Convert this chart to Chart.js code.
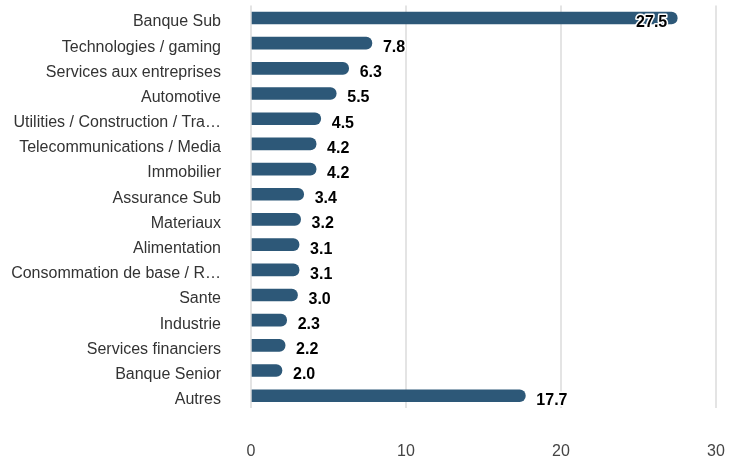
<!DOCTYPE html>
<html><head><meta charset="utf-8">
<script src="https://cdn.jsdelivr.net/npm/chart.js@4/dist/chart.umd.min.js"></script>
<style>html,body{margin:0;padding:0;background:#fff;overflow:hidden}canvas{display:block}</style>
</head><body><canvas id="c" width="729" height="459" style="width:729px;height:459px"></canvas>
<script>
const categories = ["Banque Sub","Technologies / gaming","Services aux entreprises","Automotive","Utilities / Construction / Tra\u2026","Telecommunications / Media","Immobilier","Assurance Sub","Materiaux","Alimentation","Consommation de base / R\u2026","Sante","Industrie","Services financiers","Banque Senior","Autres"];
const values = [27.5,7.8,6.3,5.5,4.5,4.2,4.2,3.4,3.2,3.1,3.1,3.0,2.3,2.2,2.0,17.7];
const xTicks = [0,10,20,30];

const valueLabels = {
  id:'valueLabels',
  afterDatasetsDraw(chart){
    const ctx = chart.ctx, area = chart.chartArea;
    const meta = chart.getDatasetMeta(0);
    ctx.save();
    ctx.font = 'bold 16px "Liberation Sans", Arial, sans-serif';
    ctx.textBaseline = 'middle';
    ctx.lineJoin = 'round';
    meta.data.forEach((bar,i)=>{
      const txt = values[i].toFixed(1);
      const w = ctx.measureText(txt).width;
      let x = bar.x + 11;
      if (x + w > area.right - 20) { x = bar.x - 10 - w; }
      const y = bar.y + 4.5;
      ctx.lineWidth = 3;
      ctx.strokeStyle = '#fff';
      ctx.strokeText(txt, x, y);
      ctx.fillStyle = '#000';
      ctx.fillText(txt, x, y);
    });
    ctx.restore();
  }
};

new Chart(document.getElementById('c'), {
  type:'bar',
  data:{labels:categories,datasets:[{data:values,backgroundColor:'#2d5878',borderRadius:{topRight:7,bottomRight:7,topLeft:0,bottomLeft:0},borderSkipped:false,barThickness:12}]},
  options:{
    indexAxis:'y',responsive:false,maintainAspectRatio:false,animation:false,devicePixelRatio:1,
    layout:{padding:{top:5.4,right:13,bottom:0,left:0}},
    plugins:{legend:{display:false},tooltip:{enabled:false}},
    scales:{
      x:{min:0,max:30,afterBuildTicks(s){s.ticks=xTicks.map(v=>({value:v}));},
        afterFit(s){s.height=50.7;s.paddingLeft=0;s.paddingRight=0;},
        border:{display:false},
        grid:{color:'#e4e4e4',lineWidth:2,drawTicks:false},
        ticks:{padding:34,color:'#444',font:{size:16,family:'"Liberation Sans", Arial, sans-serif'}}},
      y:{border:{display:false},grid:{display:false,drawTicks:false},
        afterFit(s){s.width=251;s.paddingTop=0;s.paddingBottom=0;},
        ticks:{padding:30,labelOffset:4,color:'#333',font:{size:16,family:'"Liberation Sans", Arial, sans-serif'}}}
    }
  },
  plugins:[valueLabels]
});
</script></body></html>
